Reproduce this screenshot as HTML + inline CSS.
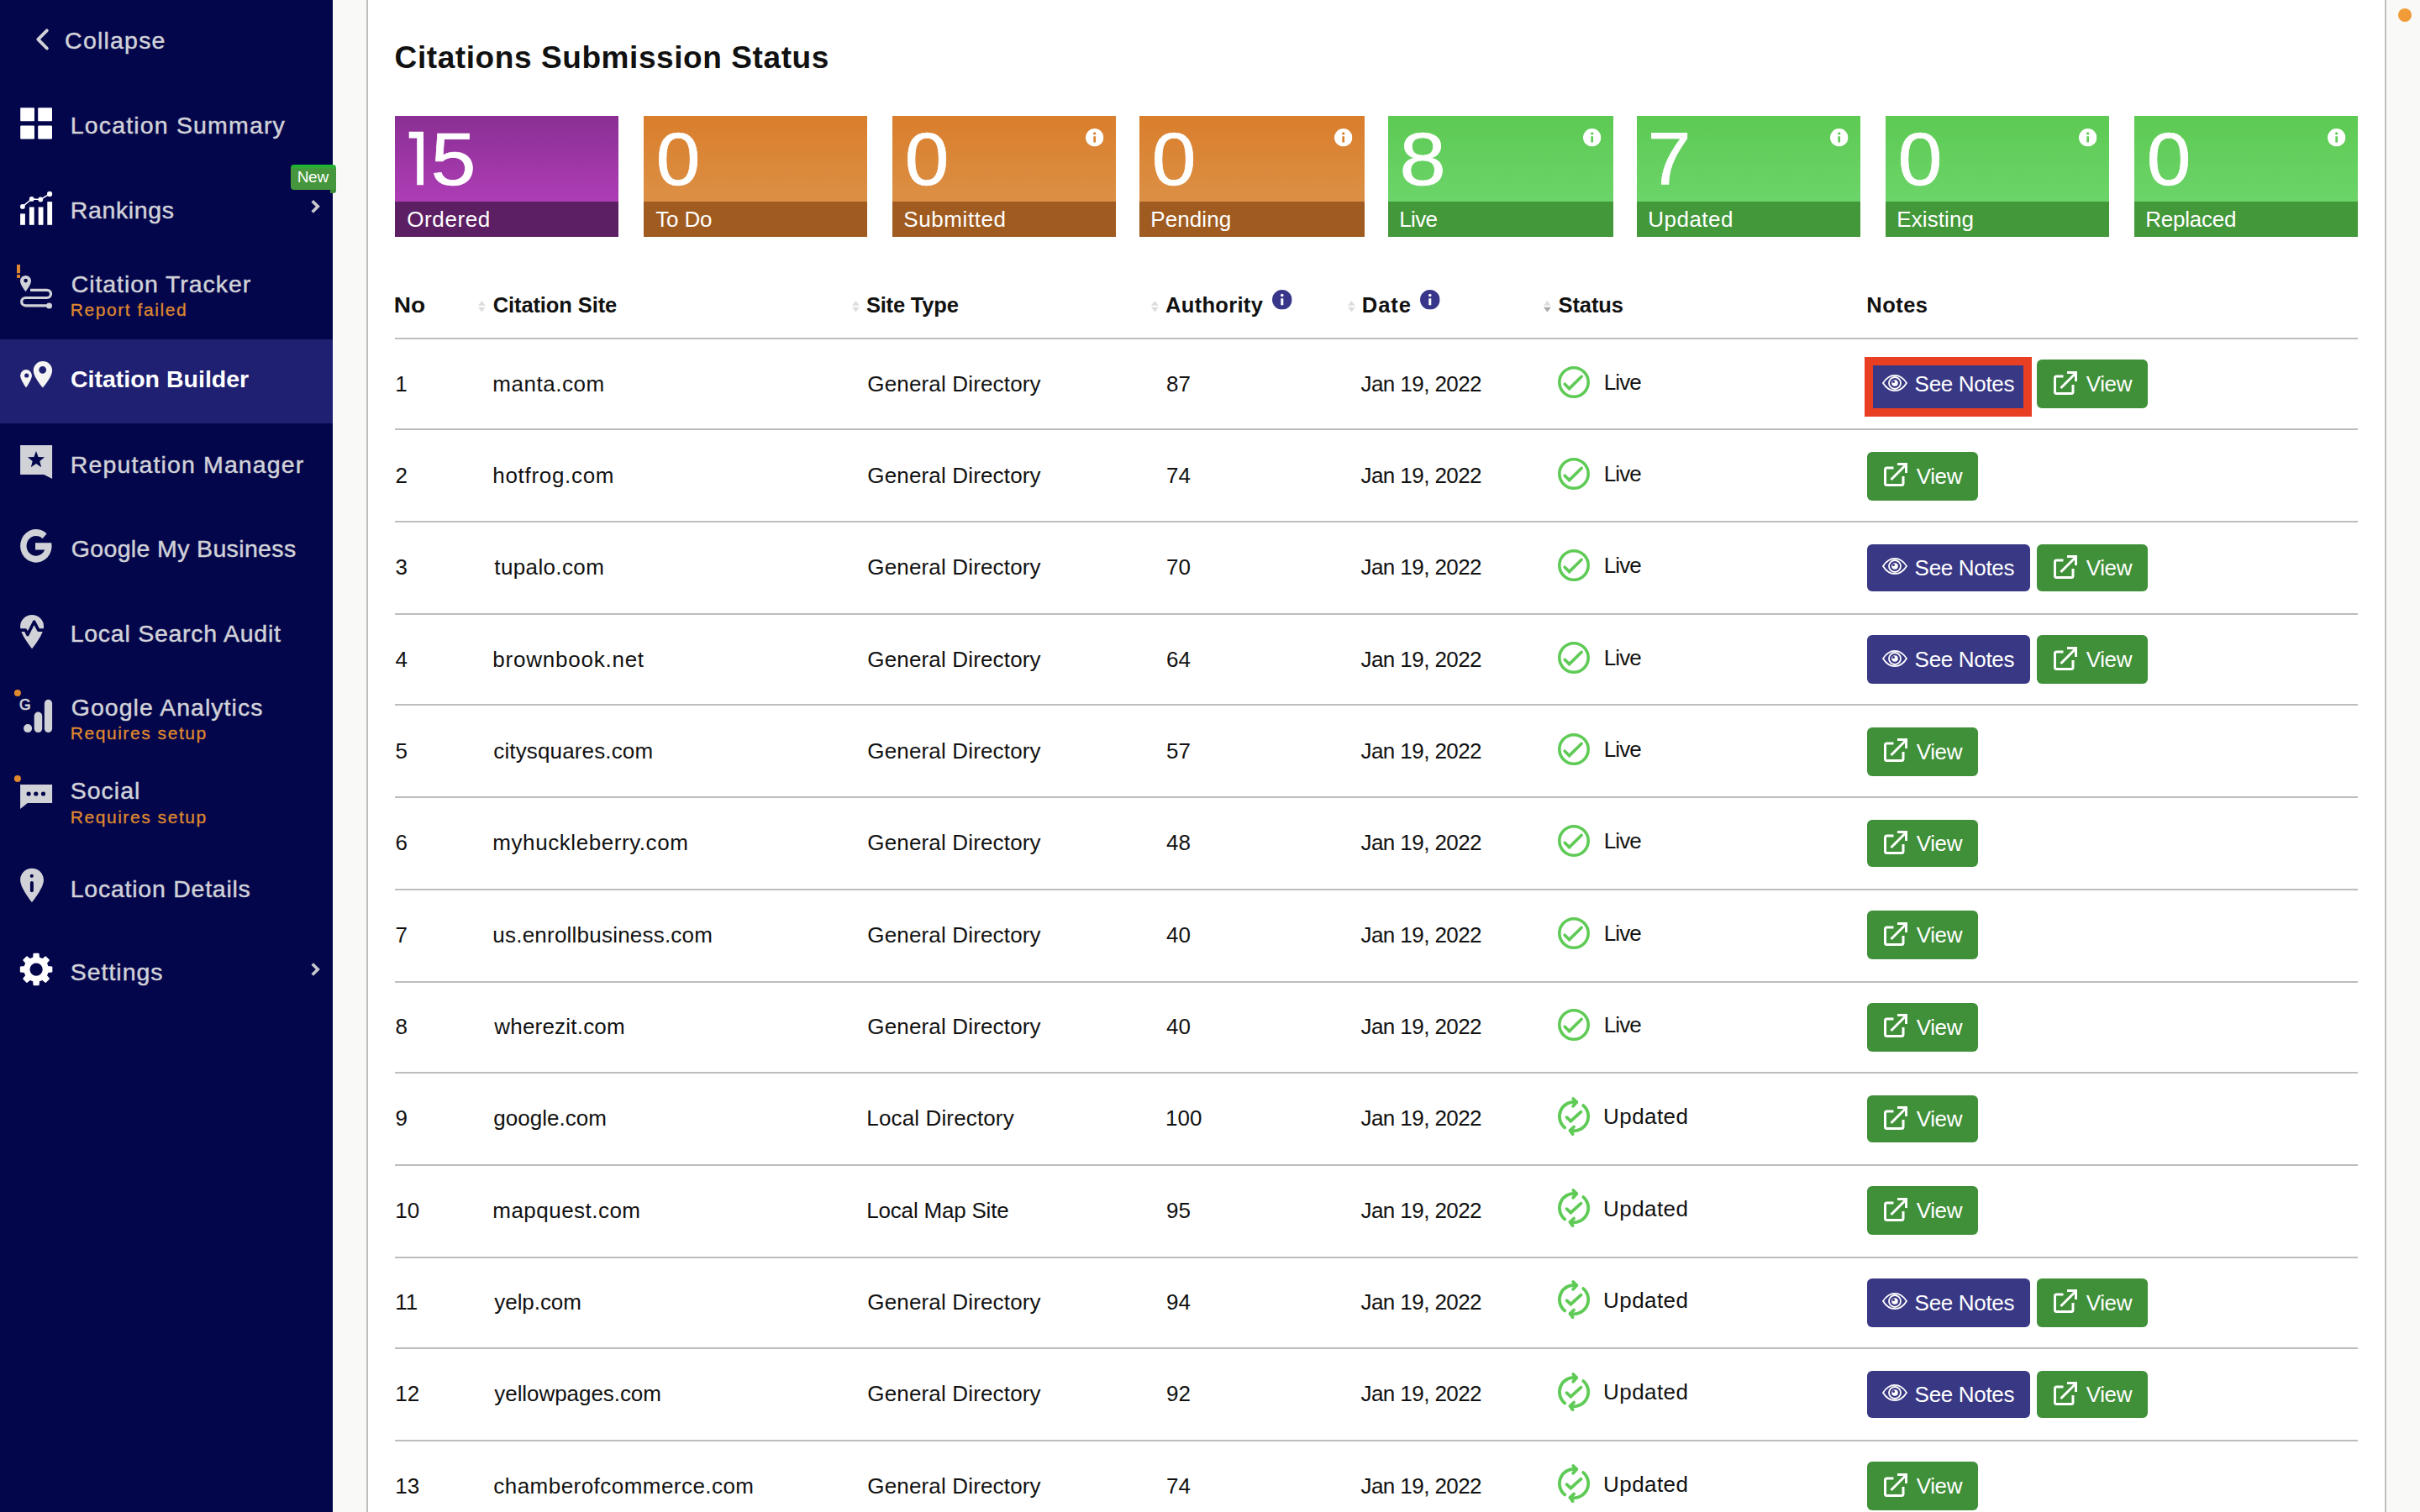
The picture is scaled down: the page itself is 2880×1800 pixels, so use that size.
<!DOCTYPE html>
<html lang="en"><head><meta charset="utf-8"><title>Citation Builder - Citations Submission Status</title>
<style>
html,body{margin:0;padding:0}
html{width:2880px;height:1800px;overflow:hidden}
body{width:2880px;height:1800px;overflow:hidden;background:#f9f9f8;position:relative;font-family:"Liberation Sans", sans-serif}
h1{margin:0}
.t{position:absolute;white-space:pre;display:block;font-weight:400;color:#111}
.m{font-size:28.5px;line-height:37px;color:#d1d2d8;-webkit-text-stroke:.45px #d1d2d8}
.m.on{font-weight:700;color:#fff;-webkit-text-stroke:0}
.s{font-size:21px;line-height:27px;color:#df882e;-webkit-text-stroke:.3px #df882e}
.nw{font-size:19px;line-height:25px;color:#fff}
.h{font-size:37px;line-height:48px;font-weight:700}
.num{font-size:88.5px;line-height:115px;color:#fff;-webkit-text-stroke:.7px #fff}
.lab,.bt{font-size:26px;line-height:34px;color:#fff}
.th{font-size:25.5px;line-height:33px;font-weight:700}
.td{font-size:26px;line-height:34px}
.sb{position:absolute;left:0;top:0;width:396px;height:1800px;background:#04064c}
.act{position:absolute;left:0;top:404px;width:396px;height:100px;background:#1f2072}
.panel{position:absolute;left:436px;top:0;width:2400px;height:1800px;background:#fff;border:solid #c0c0c0;border-width:0 2px}
.tile{position:absolute;top:138px;height:144px}
.tile i{position:absolute;left:0;right:0;bottom:0;height:42px}
.tile.p{background:linear-gradient(#8a2f93,#ae3db6 70.8%)} .tile.p i{background:#5d1f63}
.tile.o{background:linear-gradient(#d97e2c,#dc9045 70.8%)} .tile.o i{background:#a05c20}
.tile.g{background:linear-gradient(#5dca53,#6cd469 70.8%)} .tile.g i{background:#43983a}
.ic{position:absolute;display:block;overflow:visible}
.ln{position:absolute;left:470px;width:2336px;height:2px;background:#bdbdbd}
.btn{position:absolute;border-radius:6px}
.btn.n{width:194px;background:#393885}
.btn.v{width:132px;background:#3f9039}
.red{position:absolute;left:2219px;top:425px;width:179px;height:51px;border:10px solid #e83f23}
.odot{position:absolute;left:2854px;top:10px;width:16px;height:16px;border-radius:50%;background:#f19c39}
.newb{position:absolute;left:346px;top:196px;width:54px;height:30.2px;border-radius:4px 4px 0 4px;background:linear-gradient(#14c02f,#45963c 20%)}
.newt{position:absolute;left:392.8px;top:226px;width:7.2px;height:4px;border-radius:0 0 3.5px 0;background:#3b8c37}
</style></head>
<body>
<svg width="0" height="0" style="position:absolute"><defs>
<symbol id="info" viewBox="0 0 22 22"><path fill-rule="evenodd" d="M11 0a11 11 0 1 0 0 22a11 11 0 1 0 0-22zM11 4.400a1.700 1.700 0 1 1 0 3.400a1.700 1.700 0 1 1 0-3.400zM9.600 9.500h2.800v7.500h-2.800z"/></symbol>
<symbol id="live" viewBox="0 0 40 40"><circle cx="20" cy="20" r="17.2" fill="none" stroke="#5fcb56" stroke-width="3.6"/><path d="M9.2 22.2l5.4 5.4L29.2 13.3" fill="none" stroke="#5fcb56" stroke-width="3.6" stroke-linecap="round" stroke-linejoin="miter"/></symbol>
<symbol id="upd" viewBox="0 0 40 48"><g fill="none" stroke="#5fcb56" stroke-width="3.8" stroke-linecap="round" stroke-linejoin="round"><path d="M9.300 37.400A17.200 17.200 0 0 1 23.200 7.100"/><path d="M19.200 3L23.300 7.100L19.200 11.800"/><path d="M31.300 11.100A17.200 17.200 0 0 1 15.600 40.700"/><path d="M20 36.600L15.600 40.800L18.600 45.100"/><path d="M11.500 25.200L16.300 29.600L28.500 18.700" stroke-linejoin="miter"/></g></symbol>
<symbol id="eye" viewBox="0 0 30 20"><g fill="none" stroke="#fff" stroke-width="1.8"><path d="M1 10C5 3.600 10 .900 15 .900s10 2.700 14 9.100C25 16.400 20 19.100 15 19.100S5 16.400 1 10z"/><circle cx="15" cy="10" r="7"/></g><circle cx="15" cy="10" r="3.800" fill="#fff"/><circle cx="13.500" cy="8.600" r="1.500" fill="#393885"/></symbol>
<symbol id="ext" viewBox="0 0 28 28"><g fill="none" stroke="#fff" stroke-width="3"><path d="M11.5 6H3.5a2 2 0 0 0-2 2v16.5a2 2 0 0 0 2 2H21a2 2 0 0 0 2-2V16"/><path d="M8.5 20L26 2.5"/><path d="M16 1.5h10.5V12"/></g></symbol>
</defs></svg>
<nav>
<div class="sb"></div><div class="act"></div>
<svg class="ic" style="left:0;top:0" width="400" height="1300" viewBox="0 0 400 1300">
<path d="M55.8 36.3L45.3 46.9L55.8 57.5" fill="none" stroke="#d1d2d8" stroke-width="3.9" stroke-linecap="round" stroke-linejoin="round"/>
<path d="M371.7 239.4l6.6 6.4l-6.6 6.6" fill="none" stroke="#c9c9ce" stroke-width="3.6"/>
<path d="M371.7 1147.5l6.6 6.4l-6.6 6.6" fill="none" stroke="#c9c9ce" stroke-width="3.6"/>
<rect x="24.2" y="128.2" width="16.8" height="16" rx="1" fill="#fff"/>
<rect x="24.2" y="149.6" width="16.8" height="16" rx="1" fill="#fff"/>
<rect x="45.2" y="128.2" width="16.8" height="16" rx="1" fill="#fff"/>
<rect x="45.2" y="149.6" width="16.8" height="16" rx="1" fill="#fff"/>
<rect x="24.1" y="254.4" width="5.8" height="13.4" fill="#fff"/>
<rect x="34.9" y="246.5" width="5.8" height="21.3" fill="#fff"/>
<rect x="45.7" y="246.5" width="5.8" height="21.3" fill="#fff"/>
<rect x="56.3" y="240.1" width="5.8" height="27.7" fill="#fff"/>
<path d="M26.9 245.9L37.7 236.9L48.3 237.5L59.1 230.9" fill="none" stroke="#fff" stroke-width="1.5"/>
<circle cx="26.9" cy="245.9" r="2.9" fill="#fff"/>
<circle cx="37.7" cy="236.9" r="2.9" fill="#fff"/>
<circle cx="48.3" cy="237.5" r="2.9" fill="#fff"/>
<circle cx="59.1" cy="230.9" r="3.1" fill="#fff"/>
<path d="M30.5 327.9a6.5 6.5 0 0 0-6.5 6.5c0 4.6 6.5 12.6 6.5 12.6s6.5-8 6.5-12.6a6.5 6.5 0 0 0-6.5-6.5zm.100 3.9a2.3 2.3 0 1 1 0 4.6a2.3 2.3 0 1 1 0-4.6z" fill="#d1d2d8" fill-rule="evenodd"/>
<path d="M36 345.3H55.9a4.6 4.6 0 0 1 0 9.2H30.35a4.65 4.65 0 0 0 0 9.3H58" fill="none" stroke="#d1d2d8" stroke-width="3.2"/>
<circle cx="58.5" cy="363.9" r="3.5" fill="#d1d2d8"/>
<rect x="20" y="315" width="4" height="10.3" fill="#df882e"/><rect x="20" y="327.1" width="4" height="3.8" fill="#df882e"/>
<path fill="#f4f4f4" fill-rule="evenodd" d="M50.95 430a11.15 11.15 0 0 0-11.15 11.15c0 7.7 11.15 20.35 11.15 20.35s11.15-12.65 11.15-20.35a11.15 11.15 0 0 0-11.15-11.15zm-.250 5.9a4.4 4.4 0 1 1 0 8.8a4.4 4.4 0 1 1 0-8.8z"/>
<path fill="#f4f4f4" fill-rule="evenodd" d="M31.05 440.1a6.95 6.95 0 0 0-6.95 6.95c0 4.9 6.95 14.45 6.95 14.45s6.95-9.55 6.95-14.45a6.95 6.95 0 0 0-6.95-6.95zm.650 4.3a2.6 2.6 0 1 1 0 5.2a2.6 2.6 0 1 1 0-5.2z"/>
<path fill="#d1d2d8" fill-rule="evenodd" d="M24.1 530H62.1V570L52.3 565H24.1zM43 537L45.6 544L53.1 544.3L47.3 549L49.2 556.2L43 552.1L36.8 556.2L38.7 549L32.9 544.3L40.4 544z"/>
<path fill="#d1d2d8" transform="translate(42.85 0) scale(0.945 1) translate(-42.85 0)" d="M56.39 635.33A19.85 19.85 0 1 0 62.36 646.2H41.95V654.4H53.85A11.9 11.9 0 1 1 50.97 641.15z"/>
<path fill="#d1d2d8" d="M38.1 732a14 14 0 0 0-14 14c0 9.3 14 26.2 14 26.2s14-16.9 14-26.2a14 14 0 0 0-14-14z"/>
<path fill="none" stroke="#04064c" stroke-width="3.6" stroke-linejoin="round" d="M23 750.1H30.3L32.8 755.6L40.6 740.2L45.8 750.1H53"/>
<circle cx="20.9" cy="825.1" r="4" fill="#df882e"/>
<text x="23" y="844.8" font-family="Liberation Sans" font-weight="400" font-size="17.5" stroke="#d1d2d8" stroke-width=".7" fill="#d1d2d8">G</text>
<circle cx="33.1" cy="867.1" r="5" fill="#d1d2d8"/><rect x="40.7" y="847.6" width="9.5" height="24.5" rx="4.75" fill="#d1d2d8"/><rect x="52.9" y="832.8" width="9.2" height="39.3" rx="4.6" fill="#d1d2d8"/>
<circle cx="20.9" cy="927.1" r="4" fill="#df882e"/>
<path fill="#d1d2d8" fill-rule="evenodd" d="M24.1 934H62.1V956H32.8L24.1 962.9zM34.1 942.4a2.6 2.6 0 1 0 0 5.2a2.6 2.6 0 1 0 0-5.2zM42.8 942.4a2.6 2.6 0 1 0 0 5.2a2.6 2.6 0 1 0 0-5.2zM51.5 942.4a2.6 2.6 0 1 0 0 5.2a2.6 2.6 0 1 0 0-5.2z"/>
<path fill="#d1d2d8" fill-rule="evenodd" d="M38.05 1033.8c-7.7 0-13.95 6.2-13.95 13.9c0 9.5 13.95 26.5 13.95 26.5s13.95-17 13.95-26.5c0-7.7-6.25-13.9-13.95-13.9zM37.8 1040.7a2.1 2.1 0 1 1 0 4.2a2.1 2.1 0 1 1 0-4.2zM35.9 1051.1a2 2 0 0 1 4 0v9.2a2 2 0 0 1-4 0z"/>
<path fill="#fff" fill-rule="evenodd" stroke="#fff" stroke-width="1.5" stroke-linejoin="round" d="M56.9 1150.8L61.6 1151.3L61.6 1156.8L56.9 1157.3L55.2 1161.5L58.2 1165.1L54.2 1169.1L50.6 1166.1L46.3 1167.9L45.9 1172.5L40.3 1172.5L39.9 1167.9L35.6 1166.1L32 1169.1L28 1165.1L31 1161.5L29.3 1157.3L24.6 1156.8L24.6 1151.3L29.3 1150.8L31 1146.6L28 1143L32 1139L35.6 1142L39.9 1140.2L40.3 1135.6L45.9 1135.6L46.3 1140.2L50.6 1142L54.2 1139L58.2 1143L55.2 1146.6zM34.7 1154.05a8.4 8.4 0 1 0 16.8 0a8.4 8.4 0 1 0 -16.8 0z"/>
</svg>
<span class="t m" style="left:77.1px;top:29.92px;letter-spacing:1.21px;">Collapse</span>
<span class="t m" style="left:83.7px;top:131.42px;letter-spacing:1.17px;">Location Summary</span>
<span class="t m" style="left:83.7px;top:231.52px;letter-spacing:0.66px;">Rankings</span>
<span class="t m" style="left:84.7px;top:319.92px;letter-spacing:0.93px;">Citation Tracker</span>
<span class="t s" style="left:83.7px;top:355.12px;letter-spacing:1.58px;">Report failed</span>
<span class="t m on" style="left:83.9px;top:433.22px;letter-spacing:0.01px;">Citation Builder</span>
<span class="t m" style="left:83.7px;top:535.42px;letter-spacing:1.14px;">Reputation Manager</span>
<span class="t m" style="left:84.7px;top:635.32px;letter-spacing:0.36px;">Google My Business</span>
<span class="t m" style="left:83.7px;top:735.62px;letter-spacing:0.74px;">Local Search Audit</span>
<span class="t m" style="left:84.7px;top:823.62px;letter-spacing:1.03px;">Google Analytics</span>
<span class="t s" style="left:83.7px;top:858.82px;letter-spacing:1.56px;">Requires setup</span>
<span class="t m" style="left:83.7px;top:923.42px;letter-spacing:1px;">Social</span>
<span class="t s" style="left:83.7px;top:958.72px;letter-spacing:1.56px;">Requires setup</span>
<span class="t m" style="left:83.7px;top:1039.62px;letter-spacing:0.76px;">Location Details</span>
<span class="t m" style="left:83.7px;top:1139.42px;letter-spacing:0.99px;">Settings</span>
<div class="newb"></div><div class="newt"></div>
<span class="t nw" style="left:353.7px;top:197.82px;letter-spacing:-0.3px;">New</span>
</nav>
<main>
<div class="panel"></div>
<h1 class="t h" style="left:469.6px;top:45.18px;letter-spacing:0.58px;">Citations Submission Status</h1>
<section>
<div class="tile p" style="left:470px;width:266px"><i></i></div>
<svg class="ic" style="left:486px;top:156px" width="20" height="66" viewBox="486 156 20 66"><path d="M486.7 156.7H504V220.2H496.2V164.6H486.7z" fill="#fff"/></svg>
<span class="t num" style="left:513.2px;top:132.03px;transform:scaleX(1.09);transform-origin:4px 50%;">5</span>
<span class="t lab" style="left:484.3px;top:243.99px;letter-spacing:0.58px;">Ordered</span>
<div class="tile o" style="left:766px;width:266px"><i></i></div>
<span class="t num" style="left:780.5px;top:132.03px;transform:scaleX(1.07);transform-origin:3px 50%;">0</span>
<span class="t lab" style="left:780.3px;top:243.99px;letter-spacing:-0.18px;">To Do</span>
<div class="tile o" style="left:1062px;width:266px"><i></i></div>
<svg class="ic" style="left:1291.8px;top:153.3px" width="21.4" height="21.4" viewBox="0 0 22 22"><use href="#info" fill="#fff"/></svg>
<span class="t num" style="left:1076.5px;top:132.03px;transform:scaleX(1.07);transform-origin:3px 50%;">0</span>
<span class="t lab" style="left:1075.3px;top:243.99px;letter-spacing:0.59px;">Submitted</span>
<div class="tile o" style="left:1356px;width:268px"><i></i></div>
<svg class="ic" style="left:1587.8px;top:153.3px" width="21.4" height="21.4" viewBox="0 0 22 22"><use href="#info" fill="#fff"/></svg>
<span class="t num" style="left:1370.5px;top:132.03px;transform:scaleX(1.07);transform-origin:3px 50%;">0</span>
<span class="t lab" style="left:1369.3px;top:243.99px;letter-spacing:0.08px;">Pending</span>
<div class="tile g" style="left:1652px;width:268px"><i></i></div>
<svg class="ic" style="left:1883.8px;top:153.3px" width="21.4" height="21.4" viewBox="0 0 22 22"><use href="#info" fill="#fff"/></svg>
<span class="t num" style="left:1665.5px;top:132.03px;transform:scaleX(1.122);transform-origin:4px 50%;">8</span>
<span class="t lab" style="left:1665.3px;top:243.99px;letter-spacing:-0.67px;">Live</span>
<div class="tile g" style="left:1948px;width:266px"><i></i></div>
<svg class="ic" style="left:2177.8px;top:153.3px" width="21.4" height="21.4" viewBox="0 0 22 22"><use href="#info" fill="#fff"/></svg>
<span class="t num" style="left:1960.5px;top:132.03px;transform:scaleX(1.05);transform-origin:5px 50%;">7</span>
<span class="t lab" style="left:1961.3px;top:243.99px;letter-spacing:0.48px;">Updated</span>
<div class="tile g" style="left:2244px;width:266px"><i></i></div>
<svg class="ic" style="left:2473.8px;top:153.3px" width="21.4" height="21.4" viewBox="0 0 22 22"><use href="#info" fill="#fff"/></svg>
<span class="t num" style="left:2258.5px;top:132.03px;transform:scaleX(1.07);transform-origin:3px 50%;">0</span>
<span class="t lab" style="left:2257.3px;top:243.99px;letter-spacing:0.09px;">Existing</span>
<div class="tile g" style="left:2540px;width:266px"><i></i></div>
<svg class="ic" style="left:2769.8px;top:153.3px" width="21.4" height="21.4" viewBox="0 0 22 22"><use href="#info" fill="#fff"/></svg>
<span class="t num" style="left:2554.5px;top:132.03px;transform:scaleX(1.07);transform-origin:3px 50%;">0</span>
<span class="t lab" style="left:2553.3px;top:243.99px;letter-spacing:-0.23px;">Replaced</span>
</section>
<section>
<span class="t th" style="left:469.4px;top:346.66px;transform:scaleX(1.1);transform-origin:2px 50%;">No</span>
<span class="t th" style="left:586.7px;top:346.66px;letter-spacing:-0.1px;">Citation Site</span>
<span class="t th" style="left:1030.9px;top:346.66px;letter-spacing:-0.19px;">Site Type</span>
<span class="t th" style="left:1387.1px;top:346.66px;letter-spacing:0.3px;">Authority</span>
<span class="t th" style="left:1620.8px;top:346.66px;letter-spacing:0.97px;">Date</span>
<span class="t th" style="left:1854.5px;top:346.66px;letter-spacing:-0.1px;">Status</span>
<span class="t th" style="left:2221.3px;top:346.66px;letter-spacing:0.45px;">Notes</span>
<svg class="ic" style="left:568.6px;top:358.2px" width="8.8" height="13.4" viewBox="0 0 10 14" preserveAspectRatio="none"><path d="M5 0L10 6H0z" fill="#ddd"/><path d="M0 8H10L5 14z" fill="#ddd"/></svg>
<svg class="ic" style="left:1013.6px;top:358.2px" width="8.8" height="13.4" viewBox="0 0 10 14" preserveAspectRatio="none"><path d="M5 0L10 6H0z" fill="#ddd"/><path d="M0 8H10L5 14z" fill="#ddd"/></svg>
<svg class="ic" style="left:1369.6px;top:358.2px" width="8.8" height="13.4" viewBox="0 0 10 14" preserveAspectRatio="none"><path d="M5 0L10 6H0z" fill="#ddd"/><path d="M0 8H10L5 14z" fill="#ddd"/></svg>
<svg class="ic" style="left:1603.6px;top:358.2px" width="8.8" height="13.4" viewBox="0 0 10 14" preserveAspectRatio="none"><path d="M5 0L10 6H0z" fill="#ddd"/><path d="M0 8H10L5 14z" fill="#ddd"/></svg>
<svg class="ic" style="left:1836.8px;top:358.2px" width="8.8" height="13.4" viewBox="0 0 10 14" preserveAspectRatio="none"><path d="M5 0L10 6H0z" fill="#ddd"/><path d="M0 8H10L5 14z" fill="#a9a9a9"/></svg>
<svg class="ic" style="left:1513.7px;top:344.5px" width="23.6" height="23.6" viewBox="0 0 22 22"><use href="#info" fill="#38368a"/></svg>
<svg class="ic" style="left:1689.7px;top:344.5px" width="23.6" height="23.6" viewBox="0 0 22 22"><use href="#info" fill="#38368a"/></svg>
<div class="ln" style="top:402px"></div>
<div>
<span class="t td" style="left:470.2px;top:439.79px;">1</span>
<span class="t td" style="left:586.3px;top:439.79px;letter-spacing:0.54px;">manta.com</span>
<span class="t td" style="left:1032.3px;top:439.79px;letter-spacing:0.16px;">General Directory</span>
<span class="t td" style="left:1388px;top:439.79px;">87</span>
<span class="t td" style="left:1619.5px;top:439.79px;letter-spacing:-0.57px;">Jan 19, 2022</span>
<svg class="ic" style="left:1853px;top:434.7px" width="40" height="40" viewBox="0 0 40 40"><use href="#live"/></svg>
<span class="t td" style="left:1908.8px;top:437.59px;letter-spacing:-0.93px;">Live</span>
<div class="btn n" style="left:2222px;top:428px;height:58px"></div>
<svg class="ic" style="left:2240px;top:445.6px" width="30" height="20" viewBox="0 0 30 20"><use href="#eye"/></svg>
<span class="t bt" style="left:2278.6px;top:440.29px;letter-spacing:-0.31px;">See Notes</span>
<div class="btn v" style="left:2424px;top:428px;height:58px"></div>
<svg class="ic" style="left:2444px;top:442px" width="28" height="28" viewBox="0 0 28 28"><use href="#ext"/></svg>
<span class="t bt" style="left:2482.7px;top:440.29px;letter-spacing:-0.37px;">View</span>
<div class="ln" style="top:510px"></div>
</div>
<div>
<span class="t td" style="left:470.5px;top:549.12px;">2</span>
<span class="t td" style="left:586.3px;top:549.12px;letter-spacing:0.69px;">hotfrog.com</span>
<span class="t td" style="left:1032.3px;top:549.12px;letter-spacing:0.16px;">General Directory</span>
<span class="t td" style="left:1388px;top:549.12px;">74</span>
<span class="t td" style="left:1619.5px;top:549.12px;letter-spacing:-0.57px;">Jan 19, 2022</span>
<svg class="ic" style="left:1853px;top:544.03px" width="40" height="40" viewBox="0 0 40 40"><use href="#live"/></svg>
<span class="t td" style="left:1908.8px;top:546.92px;letter-spacing:-0.93px;">Live</span>
<div class="btn v" style="left:2222px;top:538px;height:58px"></div>
<svg class="ic" style="left:2242px;top:551.33px" width="28" height="28" viewBox="0 0 28 28"><use href="#ext"/></svg>
<span class="t bt" style="left:2280.7px;top:549.62px;letter-spacing:-0.37px;">View</span>
<div class="ln" style="top:620px"></div>
</div>
<div>
<span class="t td" style="left:470.5px;top:658.46px;">3</span>
<span class="t td" style="left:588.3px;top:658.46px;letter-spacing:0.37px;">tupalo.com</span>
<span class="t td" style="left:1032.3px;top:658.46px;letter-spacing:0.16px;">General Directory</span>
<span class="t td" style="left:1388px;top:658.46px;">70</span>
<span class="t td" style="left:1619.5px;top:658.46px;letter-spacing:-0.57px;">Jan 19, 2022</span>
<svg class="ic" style="left:1853px;top:653.37px" width="40" height="40" viewBox="0 0 40 40"><use href="#live"/></svg>
<span class="t td" style="left:1908.8px;top:656.26px;letter-spacing:-0.93px;">Live</span>
<div class="btn n" style="left:2222px;top:648px;height:56px"></div>
<svg class="ic" style="left:2240px;top:664.27px" width="30" height="20" viewBox="0 0 30 20"><use href="#eye"/></svg>
<span class="t bt" style="left:2278.6px;top:658.96px;letter-spacing:-0.31px;">See Notes</span>
<div class="btn v" style="left:2424px;top:648px;height:56px"></div>
<svg class="ic" style="left:2444px;top:660.67px" width="28" height="28" viewBox="0 0 28 28"><use href="#ext"/></svg>
<span class="t bt" style="left:2482.7px;top:658.96px;letter-spacing:-0.37px;">View</span>
<div class="ln" style="top:730px"></div>
</div>
<div>
<span class="t td" style="left:470.5px;top:767.79px;">4</span>
<span class="t td" style="left:586.3px;top:767.79px;letter-spacing:0.77px;">brownbook.net</span>
<span class="t td" style="left:1032.3px;top:767.79px;letter-spacing:0.16px;">General Directory</span>
<span class="t td" style="left:1388px;top:767.79px;">64</span>
<span class="t td" style="left:1619.5px;top:767.79px;letter-spacing:-0.57px;">Jan 19, 2022</span>
<svg class="ic" style="left:1853px;top:762.7px" width="40" height="40" viewBox="0 0 40 40"><use href="#live"/></svg>
<span class="t td" style="left:1908.8px;top:765.59px;letter-spacing:-0.93px;">Live</span>
<div class="btn n" style="left:2222px;top:756px;height:58px"></div>
<svg class="ic" style="left:2240px;top:773.6px" width="30" height="20" viewBox="0 0 30 20"><use href="#eye"/></svg>
<span class="t bt" style="left:2278.6px;top:768.29px;letter-spacing:-0.31px;">See Notes</span>
<div class="btn v" style="left:2424px;top:756px;height:58px"></div>
<svg class="ic" style="left:2444px;top:770px" width="28" height="28" viewBox="0 0 28 28"><use href="#ext"/></svg>
<span class="t bt" style="left:2482.7px;top:768.29px;letter-spacing:-0.37px;">View</span>
<div class="ln" style="top:838px"></div>
</div>
<div>
<span class="t td" style="left:470.5px;top:877.12px;">5</span>
<span class="t td" style="left:587.3px;top:877.12px;letter-spacing:0.14px;">citysquares.com</span>
<span class="t td" style="left:1032.3px;top:877.12px;letter-spacing:0.16px;">General Directory</span>
<span class="t td" style="left:1388px;top:877.12px;">57</span>
<span class="t td" style="left:1619.5px;top:877.12px;letter-spacing:-0.57px;">Jan 19, 2022</span>
<svg class="ic" style="left:1853px;top:872.03px" width="40" height="40" viewBox="0 0 40 40"><use href="#live"/></svg>
<span class="t td" style="left:1908.8px;top:874.92px;letter-spacing:-0.93px;">Live</span>
<div class="btn v" style="left:2222px;top:866px;height:58px"></div>
<svg class="ic" style="left:2242px;top:879.33px" width="28" height="28" viewBox="0 0 28 28"><use href="#ext"/></svg>
<span class="t bt" style="left:2280.7px;top:877.62px;letter-spacing:-0.37px;">View</span>
<div class="ln" style="top:948px"></div>
</div>
<div>
<span class="t td" style="left:470.5px;top:986.46px;">6</span>
<span class="t td" style="left:586.3px;top:986.46px;letter-spacing:0.57px;">myhuckleberry.com</span>
<span class="t td" style="left:1032.3px;top:986.46px;letter-spacing:0.16px;">General Directory</span>
<span class="t td" style="left:1388px;top:986.46px;">48</span>
<span class="t td" style="left:1619.5px;top:986.46px;letter-spacing:-0.57px;">Jan 19, 2022</span>
<svg class="ic" style="left:1853px;top:981.37px" width="40" height="40" viewBox="0 0 40 40"><use href="#live"/></svg>
<span class="t td" style="left:1908.8px;top:984.26px;letter-spacing:-0.93px;">Live</span>
<div class="btn v" style="left:2222px;top:976px;height:56px"></div>
<svg class="ic" style="left:2242px;top:988.67px" width="28" height="28" viewBox="0 0 28 28"><use href="#ext"/></svg>
<span class="t bt" style="left:2280.7px;top:986.96px;letter-spacing:-0.37px;">View</span>
<div class="ln" style="top:1058px"></div>
</div>
<div>
<span class="t td" style="left:470.5px;top:1095.79px;">7</span>
<span class="t td" style="left:586.3px;top:1095.79px;letter-spacing:0.22px;">us.enrollbusiness.com</span>
<span class="t td" style="left:1032.3px;top:1095.79px;letter-spacing:0.16px;">General Directory</span>
<span class="t td" style="left:1388px;top:1095.79px;">40</span>
<span class="t td" style="left:1619.5px;top:1095.79px;letter-spacing:-0.57px;">Jan 19, 2022</span>
<svg class="ic" style="left:1853px;top:1090.7px" width="40" height="40" viewBox="0 0 40 40"><use href="#live"/></svg>
<span class="t td" style="left:1908.8px;top:1093.59px;letter-spacing:-0.93px;">Live</span>
<div class="btn v" style="left:2222px;top:1084px;height:58px"></div>
<svg class="ic" style="left:2242px;top:1098px" width="28" height="28" viewBox="0 0 28 28"><use href="#ext"/></svg>
<span class="t bt" style="left:2280.7px;top:1096.29px;letter-spacing:-0.37px;">View</span>
<div class="ln" style="top:1168px"></div>
</div>
<div>
<span class="t td" style="left:470.5px;top:1205.12px;">8</span>
<span class="t td" style="left:588.3px;top:1205.12px;letter-spacing:0.2px;">wherezit.com</span>
<span class="t td" style="left:1032.3px;top:1205.12px;letter-spacing:0.16px;">General Directory</span>
<span class="t td" style="left:1388px;top:1205.12px;">40</span>
<span class="t td" style="left:1619.5px;top:1205.12px;letter-spacing:-0.57px;">Jan 19, 2022</span>
<svg class="ic" style="left:1853px;top:1200.03px" width="40" height="40" viewBox="0 0 40 40"><use href="#live"/></svg>
<span class="t td" style="left:1908.8px;top:1202.92px;letter-spacing:-0.93px;">Live</span>
<div class="btn v" style="left:2222px;top:1194px;height:58px"></div>
<svg class="ic" style="left:2242px;top:1207.33px" width="28" height="28" viewBox="0 0 28 28"><use href="#ext"/></svg>
<span class="t bt" style="left:2280.7px;top:1205.62px;letter-spacing:-0.37px;">View</span>
<div class="ln" style="top:1276px"></div>
</div>
<div>
<span class="t td" style="left:470.5px;top:1314.46px;">9</span>
<span class="t td" style="left:587.3px;top:1314.46px;letter-spacing:0.02px;">google.com</span>
<span class="t td" style="left:1031.3px;top:1314.46px;letter-spacing:0.14px;">Local Directory</span>
<span class="t td" style="left:1387px;top:1314.46px;">100</span>
<span class="t td" style="left:1619.5px;top:1314.46px;letter-spacing:-0.57px;">Jan 19, 2022</span>
<svg class="ic" style="left:1853.2px;top:1304.77px" width="40" height="48" viewBox="0 0 40 48"><use href="#upd"/></svg>
<span class="t td" style="left:1908.1px;top:1312.26px;letter-spacing:0.43px;">Updated</span>
<div class="btn v" style="left:2222px;top:1304px;height:56px"></div>
<svg class="ic" style="left:2242px;top:1316.67px" width="28" height="28" viewBox="0 0 28 28"><use href="#ext"/></svg>
<span class="t bt" style="left:2280.7px;top:1314.96px;letter-spacing:-0.37px;">View</span>
<div class="ln" style="top:1386px"></div>
</div>
<div>
<span class="t td" style="left:470.2px;top:1423.79px;">10</span>
<span class="t td" style="left:586.3px;top:1423.79px;letter-spacing:0.47px;">mapquest.com</span>
<span class="t td" style="left:1031.3px;top:1423.79px;letter-spacing:-0.2px;">Local Map Site</span>
<span class="t td" style="left:1388px;top:1423.79px;">95</span>
<span class="t td" style="left:1619.5px;top:1423.79px;letter-spacing:-0.57px;">Jan 19, 2022</span>
<svg class="ic" style="left:1853.2px;top:1414.1px" width="40" height="48" viewBox="0 0 40 48"><use href="#upd"/></svg>
<span class="t td" style="left:1908.1px;top:1421.59px;letter-spacing:0.43px;">Updated</span>
<div class="btn v" style="left:2222px;top:1412px;height:58px"></div>
<svg class="ic" style="left:2242px;top:1426px" width="28" height="28" viewBox="0 0 28 28"><use href="#ext"/></svg>
<span class="t bt" style="left:2280.7px;top:1424.29px;letter-spacing:-0.37px;">View</span>
<div class="ln" style="top:1496px"></div>
</div>
<div>
<span class="t td" style="left:470.2px;top:1533.12px;">11</span>
<span class="t td" style="left:588.3px;top:1533.12px;letter-spacing:-0.06px;">yelp.com</span>
<span class="t td" style="left:1032.3px;top:1533.12px;letter-spacing:0.16px;">General Directory</span>
<span class="t td" style="left:1388px;top:1533.12px;">94</span>
<span class="t td" style="left:1619.5px;top:1533.12px;letter-spacing:-0.57px;">Jan 19, 2022</span>
<svg class="ic" style="left:1853.2px;top:1523.43px" width="40" height="48" viewBox="0 0 40 48"><use href="#upd"/></svg>
<span class="t td" style="left:1908.1px;top:1530.92px;letter-spacing:0.43px;">Updated</span>
<div class="btn n" style="left:2222px;top:1522px;height:58px"></div>
<svg class="ic" style="left:2240px;top:1538.93px" width="30" height="20" viewBox="0 0 30 20"><use href="#eye"/></svg>
<span class="t bt" style="left:2278.6px;top:1533.62px;letter-spacing:-0.31px;">See Notes</span>
<div class="btn v" style="left:2424px;top:1522px;height:58px"></div>
<svg class="ic" style="left:2444px;top:1535.33px" width="28" height="28" viewBox="0 0 28 28"><use href="#ext"/></svg>
<span class="t bt" style="left:2482.7px;top:1533.62px;letter-spacing:-0.37px;">View</span>
<div class="ln" style="top:1604px"></div>
</div>
<div>
<span class="t td" style="left:470.2px;top:1642.46px;">12</span>
<span class="t td" style="left:588.3px;top:1642.46px;letter-spacing:-0.06px;">yellowpages.com</span>
<span class="t td" style="left:1032.3px;top:1642.46px;letter-spacing:0.16px;">General Directory</span>
<span class="t td" style="left:1388px;top:1642.46px;">92</span>
<span class="t td" style="left:1619.5px;top:1642.46px;letter-spacing:-0.57px;">Jan 19, 2022</span>
<svg class="ic" style="left:1853.2px;top:1632.77px" width="40" height="48" viewBox="0 0 40 48"><use href="#upd"/></svg>
<span class="t td" style="left:1908.1px;top:1640.26px;letter-spacing:0.43px;">Updated</span>
<div class="btn n" style="left:2222px;top:1632px;height:56px"></div>
<svg class="ic" style="left:2240px;top:1648.27px" width="30" height="20" viewBox="0 0 30 20"><use href="#eye"/></svg>
<span class="t bt" style="left:2278.6px;top:1642.96px;letter-spacing:-0.31px;">See Notes</span>
<div class="btn v" style="left:2424px;top:1632px;height:56px"></div>
<svg class="ic" style="left:2444px;top:1644.67px" width="28" height="28" viewBox="0 0 28 28"><use href="#ext"/></svg>
<span class="t bt" style="left:2482.7px;top:1642.96px;letter-spacing:-0.37px;">View</span>
<div class="ln" style="top:1714px"></div>
</div>
<div>
<span class="t td" style="left:470.2px;top:1751.79px;">13</span>
<span class="t td" style="left:587.3px;top:1751.79px;letter-spacing:0.46px;">chamberofcommerce.com</span>
<span class="t td" style="left:1032.3px;top:1751.79px;letter-spacing:0.16px;">General Directory</span>
<span class="t td" style="left:1388px;top:1751.79px;">74</span>
<span class="t td" style="left:1619.5px;top:1751.79px;letter-spacing:-0.57px;">Jan 19, 2022</span>
<svg class="ic" style="left:1853.2px;top:1742.1px" width="40" height="48" viewBox="0 0 40 48"><use href="#upd"/></svg>
<span class="t td" style="left:1908.1px;top:1749.59px;letter-spacing:0.43px;">Updated</span>
<div class="btn v" style="left:2222px;top:1740px;height:58px"></div>
<svg class="ic" style="left:2242px;top:1754px" width="28" height="28" viewBox="0 0 28 28"><use href="#ext"/></svg>
<span class="t bt" style="left:2280.7px;top:1752.29px;letter-spacing:-0.37px;">View</span>
</div>
<div class="red"></div>
</section>
</main>
<div class="odot"></div>
</body></html>
